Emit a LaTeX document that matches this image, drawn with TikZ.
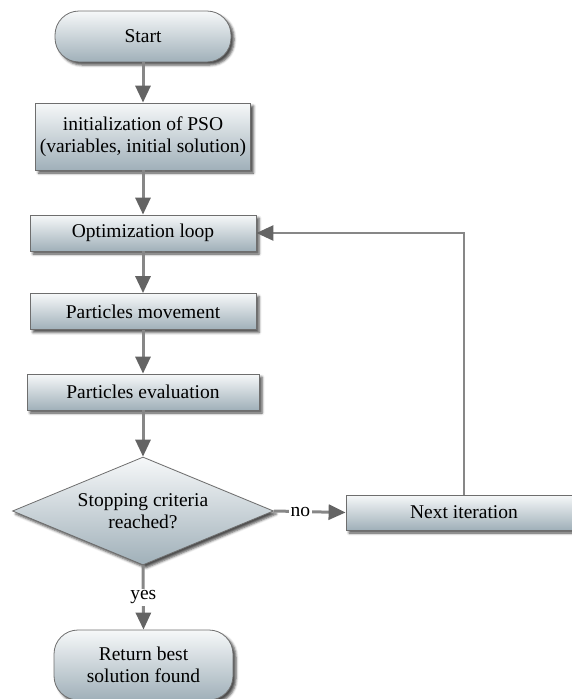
\documentclass[tikz,border=0pt]{standalone}
\usepackage{fontspec}
\setmainfont{Liberation Serif}
\usetikzlibrary{arrows.meta,shapes.geometric,shadows.blur}

\definecolor{boxtop}{RGB}{246,248,249}
\definecolor{boxbottom}{RGB}{160,176,185}
\definecolor{boxline}{RGB}{110,110,110}
\definecolor{wire}{RGB}{135,135,135}
\definecolor{tipfill}{RGB}{100,100,100}

\tikzset{
  base/.style={draw=boxline, line width=0.8pt, shading=axis,
    top color=boxtop, bottom color=boxbottom, inner sep=0pt,
    align=center, font=\fontsize{19.5}{22}\selectfont,
    blur shadow={shadow xshift=3pt, shadow yshift=-3pt,
      shadow blur radius=2.5pt, shadow opacity=70}},
  procbox/.style={base, rectangle, minimum width=#1, minimum height=36pt},
  terminal/.style={base, rectangle, rounded corners=24pt, minimum width=176pt},
  decision/.style={base, diamond, aspect=2.4167, minimum width=261pt, minimum height=108pt},
  flow/.style={draw=wire, line width=3pt,
    -{Triangle[length=17pt, width=15pt, fill=tipfill, color=tipfill]}},
  tag/.style={fill=white, inner sep=2pt, font=\fontsize{19.5}{22}\selectfont}
}

\begin{document}
\begin{tikzpicture}[x=1pt, y=-1pt]
  \useasboundingbox (0,0) rectangle (572,699);

  % main column
  \node[terminal, minimum height=51pt] (start) at (143,36.5) {Start};
  \node[procbox=215pt, minimum height=67pt] (init) at (143,136.5)
    {initialization of PSO\\(variables, initial solution)};
  \node[procbox=226pt] (loop) at (143,233) {Optimization loop};
  \node[procbox=226pt] (move) at (143,311.5) {Particles movement};
  \node[procbox=232pt] (eval) at (143,392) {Particles evaluation};
  \node[decision] (stop) at (143,511) {Stopping criteria\\reached?};
  \node[terminal, minimum width=179pt, minimum height=70pt] (ret) at (143.5,665)
    {Return best\\solution found};

  % side branch
  \node[procbox=236pt, minimum height=35pt] (next) at (464,512.5) {Next iteration};

  % connectors
  \draw[flow] (start) -- (init);
  \draw[flow] (init) -- (loop);
  \draw[flow] (loop) -- (move);
  \draw[flow] (move) -- (eval);
  \draw[flow] (eval) -- (stop);

  \draw[flow] (stop.east) -- node[tag, pos=0.37] {no} (next.west);
  \draw[flow] (stop.south) -- node[tag, pos=0.5] {yes} (ret.north);

  \draw[flow, line width=2.5pt] (next.north) |- (loop.east);
\end{tikzpicture}
\end{document}
